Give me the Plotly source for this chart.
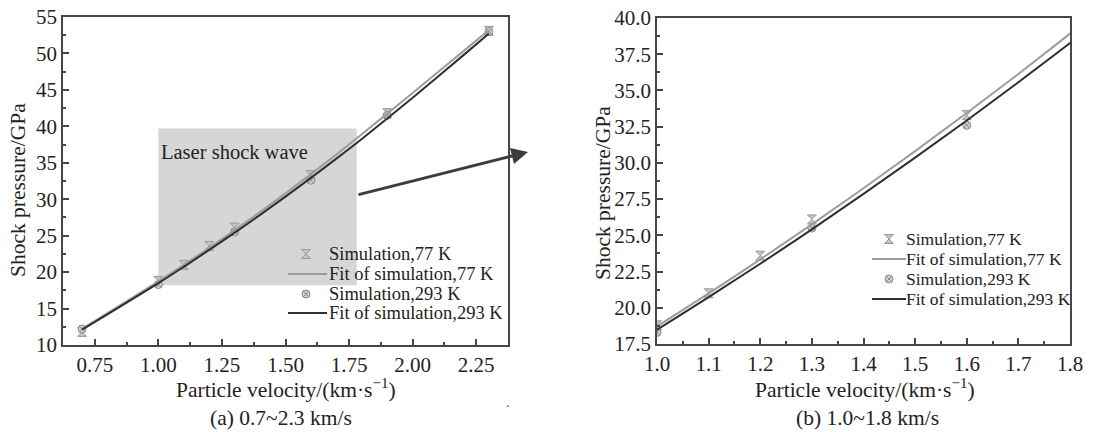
import plotly.graph_objects as go

# ---------------- data ----------------
sim_x_77 = [0.7, 1.0, 1.1, 1.2, 1.3, 1.6, 1.9, 2.3]
sim_y_77 = [11.8, 18.8, 21.0, 23.6, 26.1, 33.3, 41.8, 53.1]
sim_x_293 = [0.7, 1.0, 1.3, 1.6, 1.9, 2.3]
sim_y_293 = [12.2, 18.3, 25.5, 32.6, 41.5, 53.0]

fit_x = [0.7, 1.0, 1.1, 1.2, 1.3, 1.4, 1.5, 1.6, 1.7, 1.8, 1.9, 2.0, 2.1, 2.2, 2.3]
fit_y_77 = [12.2, 18.72, 20.99, 23.34, 25.76, 28.25, 30.81, 33.44, 36.14, 38.92,
            41.74, 44.58, 47.44, 50.32, 53.22]
fit_y_293 = [12.1, 18.49, 20.73, 23.04, 25.41, 27.86, 30.36, 32.93, 35.57, 38.27,
             41.07, 43.93, 46.83, 49.77, 52.75]

highlight_x = [1.0, 1.78]
highlight_y = [18.2, 39.7]

legend_labels = ["Simulation,77 K", "Fit of simulation,77 K",
                 "Simulation,293 K", "Fit of simulation,293 K"]
y_title = "Shock pressure/GPa"
x_title = "Particle velocity/(km·s<sup>−1</sup>)"
captions = ["(a) 0.7~2.3 km/s", "(b) 1.0~1.8 km/s"]

# ---------------- style ----------------
W, H = 1117, 432
FONT = "Liberation Serif, Times New Roman, DejaVu Serif, serif"
TXT = "#222222"
AX = "#474747"
C77_LINE = "#9c9c9c"
C293_LINE = "#2f2f2f"
M77 = dict(symbol="hourglass", size=9, color="#c4c4c4", line=dict(color="#9a9a9a", width=1))
M293 = dict(symbol="circle-x", size=8, color="#cfcfcf", line=dict(color="#8a8a8a", width=1))


def px_x(p):
    return p / W


def px_y(p):
    return 1 - p / H


fig = go.Figure()

for xa, ya in (("x", "y"), ("x2", "y2")):
    fig.add_trace(go.Scatter(x=sim_x_77, y=sim_y_77, mode="markers", marker=M77,
                             xaxis=xa, yaxis=ya, showlegend=False))
    fig.add_trace(go.Scatter(x=sim_x_293, y=sim_y_293, mode="markers", marker=M293,
                             xaxis=xa, yaxis=ya, showlegend=False))
    fig.add_trace(go.Scatter(x=fit_x, y=fit_y_77, mode="lines",
                             line=dict(color=C77_LINE, width=2, shape="spline"),
                             xaxis=xa, yaxis=ya, showlegend=False))
    fig.add_trace(go.Scatter(x=fit_x, y=fit_y_293, mode="lines",
                             line=dict(color=C293_LINE, width=2, shape="spline"),
                             xaxis=xa, yaxis=ya, showlegend=False))

# ---------- hand-drawn legends (pixel layout helper axis) ----------
legends = [
    dict(text_x=327, line_x=(288, 327), mark_x=306, rows=(254, 274, 294, 313), size=18.5),
    dict(text_x=904, line_x=(872, 906), mark_x=889, rows=(239, 259, 279, 299), size=17.5),
]
for lg in legends:
    r = lg["rows"]
    fig.add_trace(go.Scatter(x=[lg["mark_x"]], y=[r[0]], mode="markers", marker=M77,
                             xaxis="x3", yaxis="y3", showlegend=False))
    fig.add_trace(go.Scatter(x=[lg["mark_x"]], y=[r[2]], mode="markers", marker=M293,
                             xaxis="x3", yaxis="y3", showlegend=False))
    fig.add_trace(go.Scatter(x=list(lg["line_x"]), y=[r[1], r[1]], mode="lines",
                             line=dict(color=C77_LINE, width=2),
                             xaxis="x3", yaxis="y3", showlegend=False))
    fig.add_trace(go.Scatter(x=list(lg["line_x"]), y=[r[3], r[3]], mode="lines",
                             line=dict(color=C293_LINE, width=2),
                             xaxis="x3", yaxis="y3", showlegend=False))

annotations = []
for lg in legends:
    for lab, ry in zip(legend_labels, lg["rows"]):
        annotations.append(dict(x=px_x(lg["text_x"]), y=px_y(ry), xref="paper", yref="paper",
                                text=lab, showarrow=False, xanchor="left", yanchor="middle",
                                font=dict(family=FONT, size=lg["size"], color=TXT)))

# axis titles and captions
annotations += [
    dict(x=px_x(286), y=px_y(388), text=x_title),
    dict(x=px_x(865), y=px_y(388), text=x_title),
    dict(x=px_x(281), y=px_y(418), text=captions[0]),
    dict(x=px_x(867), y=px_y(418), text=captions[1]),
    dict(x=px_x(18), y=px_y(190), text=y_title, textangle=-90),
    dict(x=px_x(603), y=px_y(193), text=y_title, textangle=-90),
]
for a in annotations[-6:]:
    a.update(xref="paper", yref="paper", showarrow=False, xanchor="center",
             yanchor="middle", font=dict(family=FONT, size=21.5, color=TXT))

annotations.append(dict(x=px_x(159), y=px_y(152), xref="paper", yref="paper",
                        text="Laser shock wave", showarrow=False, xanchor="left",
                        yanchor="middle", font=dict(family=FONT, size=20.5, color=TXT)))
# arrow
annotations.append(dict(x=px_x(528), y=px_y(152), xref="paper", yref="paper",
                        ax=-171, ay=43, text="", showarrow=True, arrowhead=2,
                        arrowsize=1.1, arrowwidth=3, arrowcolor="#3c3c3c"))
annotations.append(dict(x=px_x(508), y=px_y(412), xref="paper", yref="paper",
                        text=".", showarrow=False, font=dict(family=FONT, size=14, color="#555")))

axis_common = dict(showline=True, linecolor=AX, linewidth=1.5, mirror=True,
                   ticks="inside", ticklen=6, tickwidth=1.5, tickcolor=AX,
                   showgrid=False, zeroline=False, automargin=False,
                   tickfont=dict(family=FONT, size=21, color=TXT))

fig.update_layout(
    template="none",
    width=W, height=H,
    margin=dict(l=0, r=0, t=0, b=0, pad=0),
    paper_bgcolor="white", plot_bgcolor="rgba(0,0,0,0)",
    showlegend=False,
    font=dict(family=FONT, color=TXT),
    xaxis=dict(domain=[px_x(63), px_x(508)], range=[0.625, 2.375], tick0=0.75, dtick=0.25,
               tickformat=".2f", anchor="y",
               minor=dict(ticks="inside", ticklen=3, tickwidth=1.5, tickcolor=AX, dtick=0.125, tick0=0.625),
               **axis_common),
    yaxis=dict(domain=[px_y(345), px_y(17)], range=[10, 55], tick0=10, dtick=5, anchor="x",
               minor=dict(ticks="inside", ticklen=3, tickwidth=1.5, tickcolor=AX, dtick=2.5, tick0=10),
               **axis_common),
    xaxis2=dict(domain=[px_x(657), px_x(1070)], range=[1.0, 1.8], tick0=1.0, dtick=0.1,
                tickformat=".1f", anchor="y2",
                minor=dict(ticks="inside", ticklen=3, tickwidth=1.5, tickcolor=AX, dtick=0.05, tick0=1.0),
                **axis_common),
    yaxis2=dict(domain=[px_y(344), px_y(18)], range=[17.5, 40], tick0=17.5, dtick=2.5,
                tickformat=".1f", anchor="x2",
                minor=dict(ticks="inside", ticklen=3, tickwidth=1.5, tickcolor=AX, dtick=1.25, tick0=17.5),
                **axis_common),
    xaxis3=dict(domain=[0, 1], range=[0, W], visible=False, anchor="y3", fixedrange=True,
                automargin=False),
    yaxis3=dict(domain=[0, 1], range=[H, 0], visible=False, anchor="x3", fixedrange=True,
                automargin=False),
    annotations=annotations,
    shapes=[dict(type="rect", xref="x", yref="y", x0=highlight_x[0], x1=highlight_x[1],
                 y0=highlight_y[0], y1=highlight_y[1], fillcolor="#d6d6d6",
                 line=dict(width=0), layer="below")],
)

fig.write_html("out.html")
